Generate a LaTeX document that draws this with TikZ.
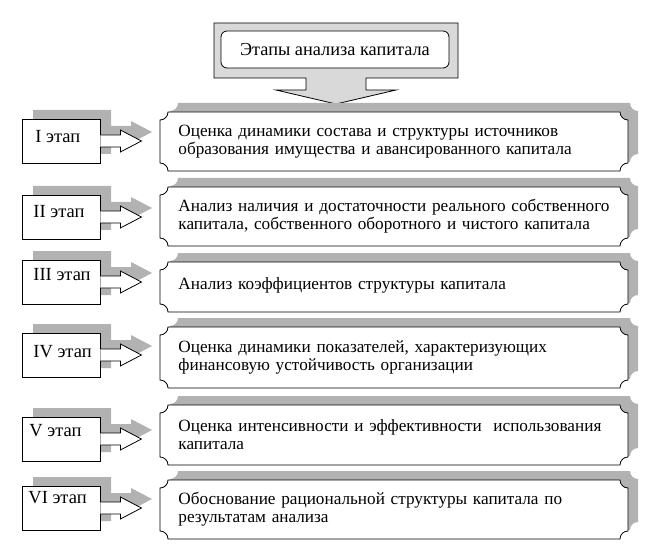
\documentclass[tikz,border=0pt]{standalone}
\usepackage{fontspec}
\setmainfont{Liberation Serif}

% plaque with hollow corners: [options]{x1}{y1}{x2}{y2}
\newcommand\plaque[5][]{%
  \path[#1] (#2+8,#3) -- (#4-8,#3) arc[start angle=180,end angle=270,radius=8pt]
    -- (#4,#5-8) arc[start angle=90,end angle=180,radius=8pt]
    -- (#2+8,#5) arc[start angle=0,end angle=90,radius=8pt]
    -- (#2,#3+8) arc[start angle=270,end angle=360,radius=8pt] -- cycle;}
% shadow of a stage box with its arrow, centre line y
\newcommand\stageshade[1]{%
  \fill[shade] (33,#1-31) -- (111,#1-31) -- (111,#1-15) -- (131,#1-15) -- (131,#1-20)
    -- (152,#1-9) -- (131,#1+2) -- (131,#1-3) -- (111,#1-3) -- (111,#1+13) -- (33,#1+13) -- cycle;}

\begin{document}
\begin{tikzpicture}[x=1pt,y=-1pt,line width=0.8pt]
\tikzstyle{every node}+=[font=\fontsize{17.2}{18}\selectfont]
\tikzstyle{shade}=[fill=black!30]
\tikzstyle{stagebox}=[draw=black,fill=white,minimum width=78pt,minimum height=44pt,inner sep=0pt]
\tikzstyle{stagetext}=[anchor=west,inner sep=0pt,font=\fontsize{18.5}{20}\selectfont]
\tikzstyle{stagearrow}=[draw=black,fill=white,line join=miter]
\tikzstyle{mainbox}=[anchor=west,inner sep=0pt,text width=460pt,align=left]
\useasboundingbox (0,0) rectangle (655,553);

% title callout
\draw[fill=black!15] (214,23) -- (458,23) -- (458,78) -- (366,78) -- (366,90) -- (396,90)
  -- (336,104) -- (276,90) -- (306,90) -- (306,78) -- (214,78) -- cycle;
\node[draw,fill=white,rounded corners=6pt,minimum width=228pt,minimum height=37pt,inner sep=0pt,font=\fontsize{18.3}{20}\selectfont] (title) at (335,49.5) {Этапы анализа капитала};

% main boxes
\plaque[shade,shift={(10,-9)}]{160}{112}{628}{171}
\plaque[draw,fill=white]{160}{112}{628}{171}
\node[mainbox] (m1) at (178,141.5) {Оценка динамики состава и структуры источников\\образования имущества и авансированного капитала};
\plaque[shade,shift={(10,-9)}]{160}{187}{628}{246}
\plaque[draw,fill=white]{160}{187}{628}{246}
\node[mainbox] (m2) at (178,216.5) {Анализ наличия и достаточности реального собственного\\капитала, собственного оборотного и чистого капитала};
\plaque[shade,shift={(10,-9)}]{160}{262}{628}{312}
\plaque[draw,fill=white]{160}{262}{628}{312}
\node[mainbox] (m3) at (178,285) {Анализ коэффициентов структуры капитала};
\plaque[shade,shift={(10,-9)}]{160}{327}{628}{388}
\plaque[draw,fill=white]{160}{327}{628}{388}
\node[mainbox] (m4) at (178,357.5) {Оценка динамики показателей, характеризующих\\финансовую устойчивость организации};
\plaque[shade,shift={(10,-9)}]{160}{405}{628}{465}
\plaque[draw,fill=white]{160}{405}{628}{465}
\node[mainbox] (m5) at (178,435) {Оценка интенсивности и эффективности\ \ использования\\капитала};
\plaque[shade,shift={(10,-9)}]{160}{480}{628}{539}
\plaque[draw,fill=white]{160}{480}{628}{539}
\node[mainbox] (m6) at (178,509.5) {Обоснование рациональной структуры капитала по\\результатам анализа};

% stage boxes
\stageshade{141}
\node[stagebox] (s1) at (61,141) {};
\draw[stagearrow] ([yshift=6pt]s1.east) -- ++(20,0) -- ++(0,-5) -- ++(21,11) -- ++(-21,11) -- ++(0,-5) -- ++(-20,0);
\node[stagetext] (l1) at (35,137) {I этап};
\stageshade{217}
\node[stagebox] (s2) at (61,217) {};
\draw[stagearrow] ([yshift=6pt]s2.east) -- ++(20,0) -- ++(0,-5) -- ++(21,11) -- ++(-21,11) -- ++(0,-5) -- ++(-20,0);
\node[stagetext] (l2) at (33,212) {II этап};
\stageshade{282}
\node[stagebox] (s3) at (61,282) {};
\draw[stagearrow] ([yshift=6pt]s3.east) -- ++(20,0) -- ++(0,-5) -- ++(21,11) -- ++(-21,11) -- ++(0,-5) -- ++(-20,0);
\node[stagetext] (l3) at (33,275) {III этап};
\stageshade{355}
\node[stagebox] (s4) at (61,355) {};
\draw[stagearrow] ([yshift=6pt]s4.east) -- ++(20,0) -- ++(0,-5) -- ++(21,11) -- ++(-21,11) -- ++(0,-5) -- ++(-20,0);
\node[stagetext] (l4) at (33,352) {IV этап};
\stageshade{439}
\node[stagebox] (s5) at (61,439) {};
\draw[stagearrow] ([yshift=6pt]s5.east) -- ++(20,0) -- ++(0,-5) -- ++(21,11) -- ++(-21,11) -- ++(0,-5) -- ++(-20,0);
\node[stagetext] (l5) at (29,431) {V этап};
\stageshade{508}
\node[stagebox] (s6) at (61,508) {};
\draw[stagearrow] ([yshift=6pt]s6.east) -- ++(20,0) -- ++(0,-5) -- ++(21,11) -- ++(-21,11) -- ++(0,-5) -- ++(-20,0);
\node[stagetext] (l6) at (28,498) {VI этап};
\end{tikzpicture}
\end{document}
